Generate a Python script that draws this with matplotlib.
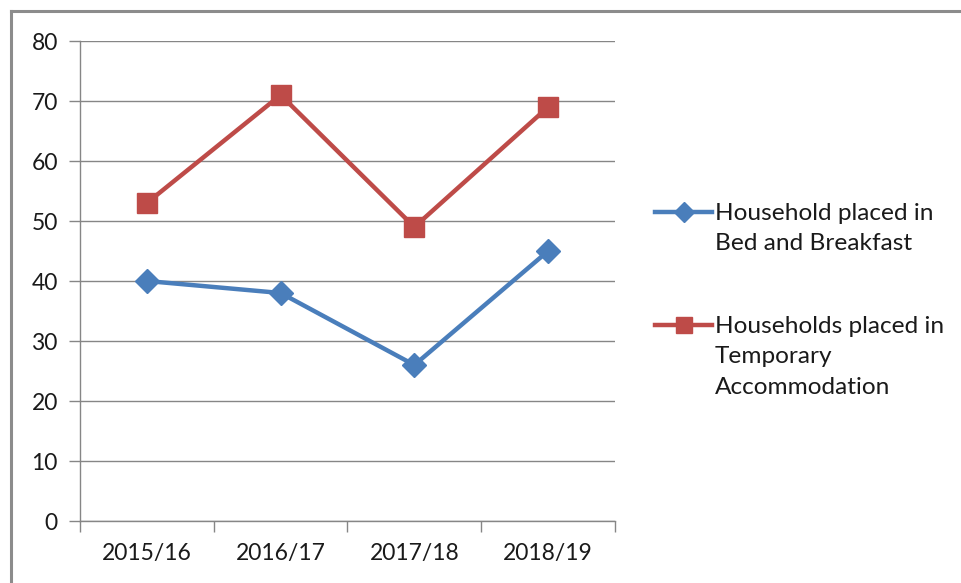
import matplotlib
matplotlib.use("Agg")
import matplotlib.pyplot as plt
from matplotlib.lines import Line2D
import numpy as np

categories = ["2015/16", "2016/17", "2017/18", "2018/19"]
bed_breakfast = [40, 38, 26, 45]
temporary = [53, 71, 49, 69]
labels = ["Household placed in\nBed and Breakfast",
          "Households placed in\nTemporary\nAccommodation"]
yticks = [0, 10, 20, 30, 40, 50, 60, 70, 80]

plt.rcParams['font.family'] = ['Lato', 'DejaVu Sans']

W, H = 962, 583
fig = plt.figure(figsize=(W / 100, H / 100), dpi=100)
ax = fig.add_axes([80 / W, (H - 521) / H, (615 - 80) / W, (521 - 41) / H])

blue = "#4a7ebb"
red = "#be4b48"
grid = "#868686"
txt = "#1a1a1a"

x = np.arange(len(categories))
ax.plot(x, bed_breakfast, color=blue, lw=3.2, marker="D", ms=12,
        markeredgecolor=blue, zorder=3)
ax.plot(x, temporary, color=red, lw=3.2, marker="s", ms=14,
        markeredgecolor=red, zorder=3)

ax.set_xlim(-0.5, len(categories) - 0.5)
ax.set_ylim(0, 80)
ax.set_yticks(yticks)
ax.set_yticklabels([str(v) for v in yticks], fontsize=16.5, color=txt)
ax.set_xticks(x)
ax.set_xticklabels(categories, fontsize=16.5, color=txt)
ax.set_xticks(np.arange(len(categories) + 1) - 0.5, minor=True)
ax.tick_params(axis="x", which="major", length=0, pad=16)
ax.tick_params(axis="x", which="minor", length=8, width=1, color=grid, direction="out")
ax.tick_params(axis="y", length=8, width=1, color=grid, direction="out", pad=8)

ax.grid(axis="y", color=grid, lw=1)
ax.set_axisbelow(True)
for s in ["top", "right"]:
    ax.spines[s].set_visible(False)
for s in ["left", "bottom"]:
    ax.spines[s].set_color(grid)
    ax.spines[s].set_linewidth(1)

# legend (handle aligned with first text line, as in the reference)
legend_items = [(labels[0], blue, "D", 12, 212), (labels[1], red, "s", 14, 325)]
for lab, col, mk, ms, ypix in legend_items:
    yf = (H - ypix) / H
    fig.add_artist(Line2D([655 / W, 712 / W], [yf, yf], transform=fig.transFigure,
                          color=col, lw=3.2))
    fig.add_artist(Line2D([683.5 / W], [yf], transform=fig.transFigure, color=col,
                          marker=mk, ms=ms * 0.85, markeredgecolor=col, lw=0))
    fig.text(715 / W, (H - ypix + 9) / H, lab, ha="left", va="top", fontsize=17.6,
             color=txt, linespacing=1.55, transform=fig.transFigure)

# chart area border (top and left visible)
fig.add_artist(Line2D([11 / W, 1], [(H - 11) / H, (H - 11) / H],
                      transform=fig.transFigure, color="#8c8c8c", lw=2.2))
fig.add_artist(Line2D([11 / W, 11 / W], [0, (H - 11) / H],
                      transform=fig.transFigure, color="#8c8c8c", lw=2.2))

fig.savefig("out.png", dpi=100, facecolor="white")
